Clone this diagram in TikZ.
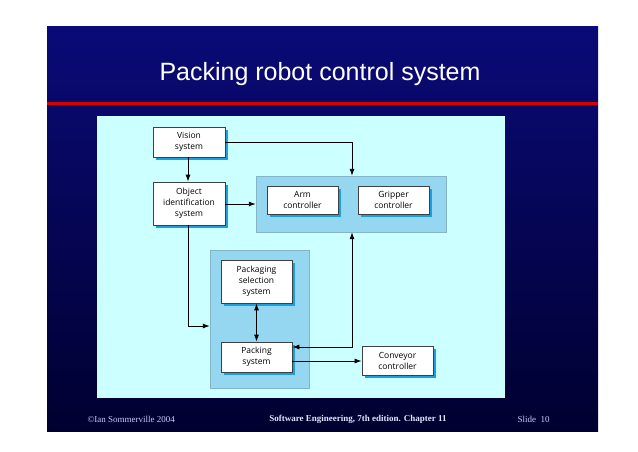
\documentclass[tikz,border=0pt]{standalone}
\usepackage{fontspec}
\setmainfont{Liberation Serif}
\newfontfamily\boxfont{Open Sans}
\newfontfamily\titlefont{Liberation Sans}
\usetikzlibrary{arrows.meta}
\definecolor{navytop}{HTML}{0A0A78}
\definecolor{navybot}{HTML}{000030}
\definecolor{panel}{HTML}{CCFFFF}
\definecolor{grpc}{HTML}{95D6F0}
\definecolor{shadc}{HTML}{1AA0E0}
\begin{document}
\begin{tikzpicture}[x=1pt,y=-1pt,
  blk/.style={draw=black!75,line width=0.7pt,fill=white,align=center,font=\boxfont\fontsize{8.5}{11}\selectfont,inner sep=0pt},
  shad/.style={fill=shadc},
  grp/.style={fill=grpc,draw=grpc!80!black!90},
  arr/.style={line width=0.9pt,-{Latex[length=7pt,width=5pt]}},
  darr/.style={line width=0.9pt,{Latex[length=7pt,width=5pt]}-{Latex[length=7pt,width=5pt]}}]
\useasboundingbox (0,0) rectangle (638,451);
\fill[white] (0,0) rectangle (638,451);
\shade[top color=navytop, bottom color=navybot] (47,26) rectangle (598,431);
\fill[red!85!black] (47,101.5) rectangle (598,104.5);
\node[font=\titlefont\fontsize{25}{28}\selectfont,text=white] (title) at (320,74) {Packing robot control system};
\fill[panel] (97,116) rectangle (505,398);
\node[grp,minimum width=190pt,minimum height=56pt,inner sep=0pt] (ag) at (351,204) {};
\node[grp,minimum width=99pt,minimum height=138pt,inner sep=0pt] (pg) at (259.5,319) {};
\foreach \n/\x/\y/\w/\h/\t in {vis/189/142/72/30/{Vision\\system},
  obj/189/203.5/72/43/{Object\\identification\\system},
  arm/302.5/200/71/28/{Arm\\controller},
  grip/393.5/200/71/28/{Gripper\\controller},
  psel/256.5/281.5/71/43/{Packaging\\selection\\system},
  pack/256.5/357/71/30/{Packing\\system},
  conv/397.5/360.5/71/29/{Conveyor\\controller}}{
  \fill[shad] (\x-\w/2+3,\y-\h/2+3) rectangle (\x+\w/2+3,\y+\h/2+3);
  \node[blk,minimum width=\w pt,minimum height=\h pt] (\n) at (\x,\y) {\t};
}
\coordinate (c1) at (352,142);
\coordinate (c2) at (188,326);
\coordinate (c3) at (352,347);
\draw[arr] (vis.east |- c1) -- (c1) -- (c1 |- ag.north);
\draw[arr] (vis.south -| c2) -- (obj.north -| c2);
\draw[arr] (obj.east |- 0,204) -- (ag.west |- 0,204);
\draw[arr] (obj.south -| c2) -- (c2) -- (pg.west |- c2);
\draw[darr] (psel.south) -- (pack.north);
\draw[darr] (pack.east |- c3) -- (c3) -- (c3 |- ag.south);
\draw[arr] (pack.east |- 0,361) -- (conv.west |- 0,361);
\node[text=white!80!blue,font=\fontsize{9}{11}\selectfont,anchor=west] (f1) at (84,419) {\copyright Ian Sommerville 2004};
\node[text=white!90!blue,font=\bfseries\fontsize{9}{11}\selectfont] (f2) at (358,419) {Software Engineering, 7th edition. Chapter 11};
\node[text=white!80!blue,font=\fontsize{9}{11}\selectfont,anchor=west] (f3) at (514,419) {Slide\ \ 10};
\end{tikzpicture}
\end{document}
